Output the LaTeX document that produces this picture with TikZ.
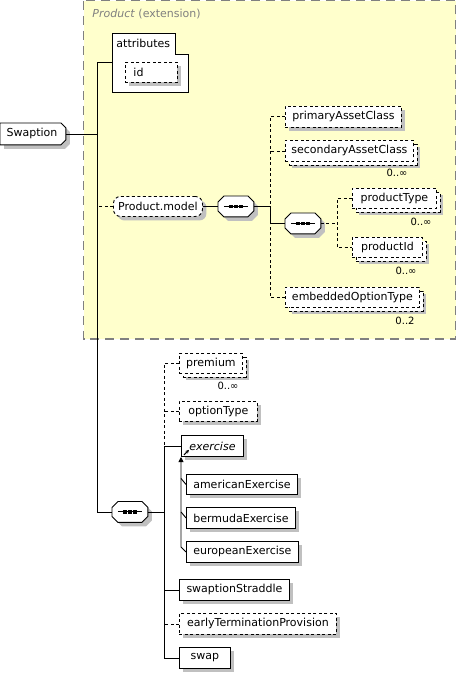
\documentclass[tikz,border=0pt]{standalone}
\usepackage{fontspec}
\setmainfont{DejaVu Sans}
\usetikzlibrary{shadows,arrows.meta,calc}
\definecolor{prodyellow}{RGB}{255,255,204}
\definecolor{shadowgray}{RGB}{192,192,192}
\definecolor{framegray}{RGB}{128,128,128}
\newcommand\seqshape[1]{%
  \draw[shpath] ($(#1.north west)+(6,0)$) -- ($(#1.north east)+(-6,0)$) -- ($(#1.north east)+(0,6)$) -- ($(#1.south east)+(0,-6)$) -- ($(#1.south east)+(-6,0)$) -- ($(#1.south west)+(6,0)$) -- ($(#1.south west)+(0,-6)$) -- ($(#1.north west)+(0,6)$) -- cycle;
  \draw[line width=1pt] ($(#1.center)+(-12,0)$) -- ($(#1.center)+(12,0)$);
  \foreach \dx in {-5,0,5} \fill ($(#1.center)+(\dx-1.7,-1.7)$) rectangle ++(3.4,3.4);}
\begin{document}
\begin{tikzpicture}[x=1pt,y=-1pt,
  font=\fontsize{11pt}{13pt}\selectfont,
  line width=0.9pt,
  dsh/.style={dash pattern=on 3pt off 2.5pt},
  shpath/.style={draw=black, fill=white, general shadow={fill=shadowgray, shadow xshift=4pt, shadow yshift=-4pt}},
  base/.style={draw=black, fill=white, rectangle, inner sep=0pt, anchor=north west},
  single/.style={base, general shadow={fill=shadowgray, shadow xshift=4pt, shadow yshift=-4pt}},
  req/.style={single},
  opt/.style={single, dsh},
  multi/.style={base, dsh,
    general shadow={fill=shadowgray, shadow xshift=7pt, shadow yshift=-7pt},
    copy shadow={shadow xshift=3.5pt, shadow yshift=-3.5pt, draw=black, fill=white, dsh}},
  seqbox/.style={rectangle, inner sep=0pt, anchor=north west, minimum width=35pt, minimum height=20pt},
  mult/.style={anchor=east, font=\fontsize{10pt}{12pt}\selectfont, inner sep=0pt}
]
\useasboundingbox (0,0) rectangle (457,674);
% Product extension frame
\draw[fill=prodyellow, draw=framegray, dash pattern=on 9pt off 6pt, line width=1.3pt] (83.5,0.8) rectangle (455.8,339);
\node[anchor=west, text=framegray, inner sep=0pt] (prodlbl) at (92,14) {\textit{Product} (extension)};

% bus coordinates
\coordinate (b1) at (97,0);
\coordinate (b2) at (270,0);
\coordinate (b3) at (337,0);
\coordinate (b4) at (164,0);

% root element
\node[rectangle, inner sep=0pt, anchor=north west, minimum width=65pt, minimum height=21pt] (swaption) at (0,123) {};
\draw[shpath] (swaption.north west) -- ($(swaption.north east)+(-5,0)$) -- ($(swaption.north east)+(0,5)$) -- ($(swaption.south east)+(0,-5)$) -- ($(swaption.south east)+(-5,0)$) -- (swaption.south west) -- cycle;
\node[inner sep=0pt] (swaptionlbl) at ($(swaption.center)+(-1,0)$) {Swaption};

% attributes
\node[anchor=north west, minimum width=76pt, minimum height=59pt, inner sep=0pt] (attrs) at (112,33) {};
\draw[fill=white] (attrs.north west) -- ($(attrs.north east)+(-13,0)$) -- ($(attrs.north east)+(-13,21)$) -- ($(attrs.north east)+(0,21)$) -- (attrs.south east) -- (attrs.south west) -- cycle;
\node[anchor=west, inner sep=0pt] (attrlbl) at (116,43) {attributes};
\node[opt, minimum height=20pt, text width=36pt, inner xsep=8pt, align=left] (id) at (125,62) {id};

% Product.model
\node[opt, rounded corners=7pt, minimum width=89pt, minimum height=20pt] (pmodel) at (113,196) {Product.model};
\node[seqbox] (seq1) at (218,196) {};
\node[opt, minimum width=116pt, minimum height=21pt] (pac) at (285,106) {primaryAssetClass};
\node[multi, minimum width=128pt, minimum height=21pt] (sac) at (285,140) {secondaryAssetClass};
\node[mult] (msac) at (408,173) {0..∞};
\node[seqbox] (seq2) at (285,213) {};
\node[multi, minimum width=84pt, minimum height=20pt] (pt) at (352,188) {productType};
\node[mult] (mpt) at (432,222) {0..∞};
\node[multi, minimum width=70pt, minimum height=20pt] (pid) at (352,237) {productId};
\node[mult] (mpid) at (417,271) {0..∞};
\node[multi, minimum width=134pt, minimum height=20pt] (eot) at (285,287) {embeddedOptionType};
\node[mult] (meot) at (415,320.5) {0..2};

% Swaption content
\node[seqbox] (seq3) at (112,501.5) {};
\node[multi, minimum width=63pt, minimum height=20pt] (prem) at (179,353) {premium};
\node[mult] (mprem) at (239,386) {0..∞};
\node[opt, minimum width=78pt, minimum height=20pt] (ot) at (179,401) {optionType};
\node[req, minimum width=62pt, minimum height=21pt] (exer) at (181,435) {\textit{exercise}};
\node[req, minimum width=111pt, minimum height=20pt] (am) at (186,474) {americanExercise};
\node[req, minimum width=109pt, minimum height=21pt] (be) at (186,507) {bermudaExercise};
\node[req, minimum width=112pt, minimum height=21pt] (eur) at (186,541) {europeanExercise};
\node[req, minimum width=110pt, minimum height=21pt] (ss) at (179,579) {swaptionStraddle};
\node[opt, minimum width=157pt, minimum height=21pt] (etp) at (179,613) {earlyTerminationProvision};
\node[req, minimum width=51pt, minimum height=21pt] (swap) at (179,647) {swap};

\seqshape{seq1}
\seqshape{seq2}
\seqshape{seq3}

% connectors: root
\draw (swaption.east) -- (swaption.east -| b1);
\draw (attrs.west) -- (attrs.west -| b1) -- (seq3.west -| b1) -- (seq3.west);
\draw[dsh] (pmodel.west) -- (pmodel.west -| b1);
% Product.model
\draw (pmodel.east) -- (seq1.west);
\draw (seq1.east) -- (seq1.east -| b2) -- (seq2.west -| b2) -- (seq2.west);
\draw[dsh] (pac.west) -- (pac.west -| b2) -- (seq1.east -| b2);
\draw[dsh] (sac.west) -- (sac.west -| b2);
\draw[dsh] (eot.west) -- (eot.west -| b2) -- (seq2.west -| b2);
\draw[dsh] (seq2.east) -- (seq2.east -| b3);
\draw[dsh] (pt.west) -- (pt.west -| b3) -- (pid.west -| b3) -- (pid.west);
% sequence 3
\draw (seq3.east) -- (seq3.east -| b4);
\draw[dsh] (prem.west) -- (prem.west -| b4) -- (exer.west -| b4);
\draw[dsh] (ot.west) -- (ot.west -| b4);
\draw (exer.west) -- (exer.west -| b4) -- (swap.west -| b4) -- (swap.west);
\draw (ss.west) -- (ss.west -| b4);
\draw[dsh] (etp.west) -- (etp.west -| b4);
% substitution group
\coordinate (subtop) at (181,457);
\draw[-{Triangle[width=5pt,length=5pt]}] (eur.west) -- ($(eur.west)+(-5,-5)$) -- (subtop);
\draw (am.west) -- ++(-5,-6);
\draw (be.west) -- ++(-5,-6);
\draw[-{Stealth[length=3.5pt,width=3.5pt]}, line width=1pt] ($(exer.south west)+(3,-2)$) -- ++(5,-5);
\end{tikzpicture}
\end{document}
